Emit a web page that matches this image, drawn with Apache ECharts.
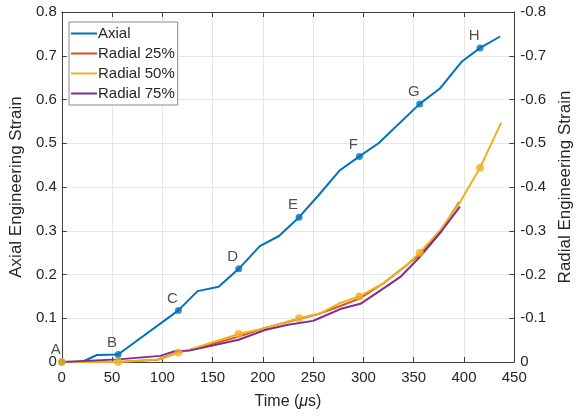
<!DOCTYPE html>
<html>
<head>
<meta charset="utf-8">
<script src="https://cdn.jsdelivr.net/npm/echarts@6/dist/echarts.min.js"></script>
<style>html,body{margin:0;padding:0;background:#fff}#c{width:582px;height:419px}</style>
</head>
<body>
<div id="c"></div>
<script>
// ---- data (time in microseconds, strain) ----
var axialTime  = [0, 20, 35, 56, 116, 135, 156, 176, 197, 216, 236, 255, 276, 296, 315, 356, 376, 398, 416, 436];
var axialStrain= [0, 0, 0.016, 0.017, 0.118, 0.162, 0.172, 0.213, 0.265, 0.288, 0.331, 0.380, 0.437, 0.470, 0.500, 0.590, 0.625, 0.687, 0.718, 0.744];

var r25Time   = [0, 56, 95, 116, 140, 176, 202, 236, 256, 277, 296, 320, 356, 376, 395];
var r25Strain = [0, 0, -0.005, -0.022, -0.035, -0.058, -0.078, -0.098, -0.110, -0.128, -0.145, -0.180, -0.245, -0.295, -0.365];

var r50Time   = [0, 56, 98, 116, 127, 176, 202, 236, 258, 277, 296, 320, 342, 356, 376, 396, 416, 437];
var r50Strain = [0, 0, -0.006, -0.022, -0.028, -0.064, -0.077, -0.100, -0.112, -0.135, -0.150, -0.180, -0.219, -0.250, -0.300, -0.365, -0.444, -0.547];

var r75Time   = [0, 56, 98, 113, 127, 176, 202, 225, 250, 256, 277, 297, 323, 337, 356, 378, 396];
var r75Strain = [0, -0.006, -0.014, -0.025, -0.026, -0.051, -0.073, -0.085, -0.094, -0.100, -0.121, -0.133, -0.173, -0.195, -0.240, -0.300, -0.355];

// marked points: indices into the arrays above
var axialMarkIdx   = [0, 3, 4, 7, 10, 13, 15, 18];
var axialMarkNames = ['A', 'B', 'C', 'D', 'E', 'F', 'G', 'H'];
var r50MarkIdx     = [0, 1, 3, 5, 7, 10, 13, 16];

function pairs(t, v) { return t.map(function (x, i) { return [x, v[i]]; }); }

var C_AX = '#0072BD', C_25 = '#D95319', C_50 = '#EDB120', C_75 = '#7E2F8E';
var txt = '#262626', axc = '#404040', font = 'Liberation Sans, Arial, sans-serif';

var chart = echarts.init(document.getElementById('c'), null, {renderer: 'canvas'});
chart.setOption({
  animation: false,
  backgroundColor: '#fff',
  textStyle: {fontFamily: font},
  grid: {left: 60, right: 60, top: 12, bottom: 57, containLabel: false},
  legend: {
    left: 69, top: 22, orient: 'vertical', itemGap: 5,
    icon: 'rect', itemWidth: 26, itemHeight: 2,
    backgroundColor: '#fff', borderColor: '#8a8a8a', borderWidth: 1,
    padding: [4, 3, 4, 2], borderRadius: 0,
    textStyle: {fontFamily: font, fontSize: 15, color: txt, padding: [0, 0, 0, -4]},
    data: ['Axial', 'Radial 25%', 'Radial 50%', 'Radial 75%']
  },
  xAxis: [{
    type: 'value', min: 0, max: 450, interval: 50, position: 'bottom',
    name: 'Time ({mu|μ}s)', nameLocation: 'middle', nameGap: 32,
    nameTextStyle: {fontFamily: font, fontSize: 16, color: txt,
      rich: {mu: {fontFamily: font, fontSize: 16, fontStyle: 'italic', color: txt}}},
    axisLine: {show: true, onZero: false, lineStyle: {color: axc, width: 1}},
    axisTick: {show: true, inside: true, length: 5, lineStyle: {color: axc}},
    axisLabel: {fontFamily: font, fontSize: 15, color: txt, margin: 8},
    splitLine: {show: true, lineStyle: {color: '#e6e6e6', width: 1}}
  }, {
    type: 'value', min: 0, max: 450, interval: 50, position: 'top',
    axisLine: {show: true, onZero: false, lineStyle: {color: axc, width: 1}},
    axisTick: {show: true, inside: true, length: 5, lineStyle: {color: axc}},
    axisLabel: {show: false}, splitLine: {show: false}
  }],
  yAxis: [{
    type: 'value', min: 0, max: 0.8, interval: 0.1, position: 'left',
    name: 'Axial Engineering Strain', nameLocation: 'middle', nameGap: 22,
    nameTextStyle: {fontFamily: font, fontSize: 17, color: txt},
    axisLine: {show: true, onZero: false, lineStyle: {color: axc, width: 1}},
    axisTick: {show: true, inside: true, length: 5, lineStyle: {color: axc}},
    axisLabel: {fontFamily: font, fontSize: 15, color: txt, margin: 5,
      formatter: function (v) { return v === 0 ? '0' : v.toFixed(1); }},
    splitLine: {show: true, lineStyle: {color: '#e6e6e6', width: 1}}
  }, {
    type: 'value', min: -0.8, max: 0, interval: 0.1, position: 'right', inverse: true,
    name: 'Radial Engineering Strain', nameLocation: 'middle', nameGap: 38,
    nameTextStyle: {fontFamily: font, fontSize: 17, color: txt},
    axisLine: {show: true, onZero: false, lineStyle: {color: axc, width: 1}},
    axisTick: {show: true, inside: true, length: 5, lineStyle: {color: axc}},
    axisLabel: {fontFamily: font, fontSize: 15, color: txt, margin: 6,
      formatter: function (v) { return Math.abs(v) < 1e-9 ? '0' : v.toFixed(1); }},
    splitLine: {show: false}
  }],
  series: [
    {name: 'Axial', type: 'line', xAxisIndex: 0, yAxisIndex: 0, data: pairs(axialTime, axialStrain),
     symbol: 'none', lineStyle: {color: C_AX, width: 2}, itemStyle: {color: C_AX}, z: 2},
    {name: 'Radial 25%', type: 'line', xAxisIndex: 0, yAxisIndex: 1, data: pairs(r25Time, r25Strain),
     symbol: 'none', lineStyle: {color: C_25, width: 2}, itemStyle: {color: C_25}, z: 3},
    {name: 'Radial 50%', type: 'line', xAxisIndex: 0, yAxisIndex: 1, data: pairs(r50Time, r50Strain),
     symbol: 'none', lineStyle: {color: C_50, width: 2}, itemStyle: {color: C_50}, z: 4},
    {name: 'Radial 75%', type: 'line', xAxisIndex: 0, yAxisIndex: 1, data: pairs(r75Time, r75Strain),
     symbol: 'none', lineStyle: {color: C_75, width: 2}, itemStyle: {color: C_75}, z: 5},
    {name: 'axialMarks', type: 'scatter', xAxisIndex: 0, yAxisIndex: 0,
     data: axialMarkIdx.map(function (i, k) { return {value: [axialTime[i], axialStrain[i]], name: axialMarkNames[k]}; }),
     symbol: 'circle', symbolSize: 7, itemStyle: {color: C_AX}, z: 6,
     label: {show: true, formatter: '{b}', position: 'inside', offset: [-6, -12],
       fontFamily: font, fontSize: 15, color: txt}},
    {name: 'r50Marks', type: 'scatter', xAxisIndex: 0, yAxisIndex: 1,
     data: r50MarkIdx.map(function (i) { return [r50Time[i], r50Strain[i]]; }),
     symbol: 'circle', symbolSize: 8, itemStyle: {color: C_50}, z: 7}
  ]
});
</script>
</body>
</html>
